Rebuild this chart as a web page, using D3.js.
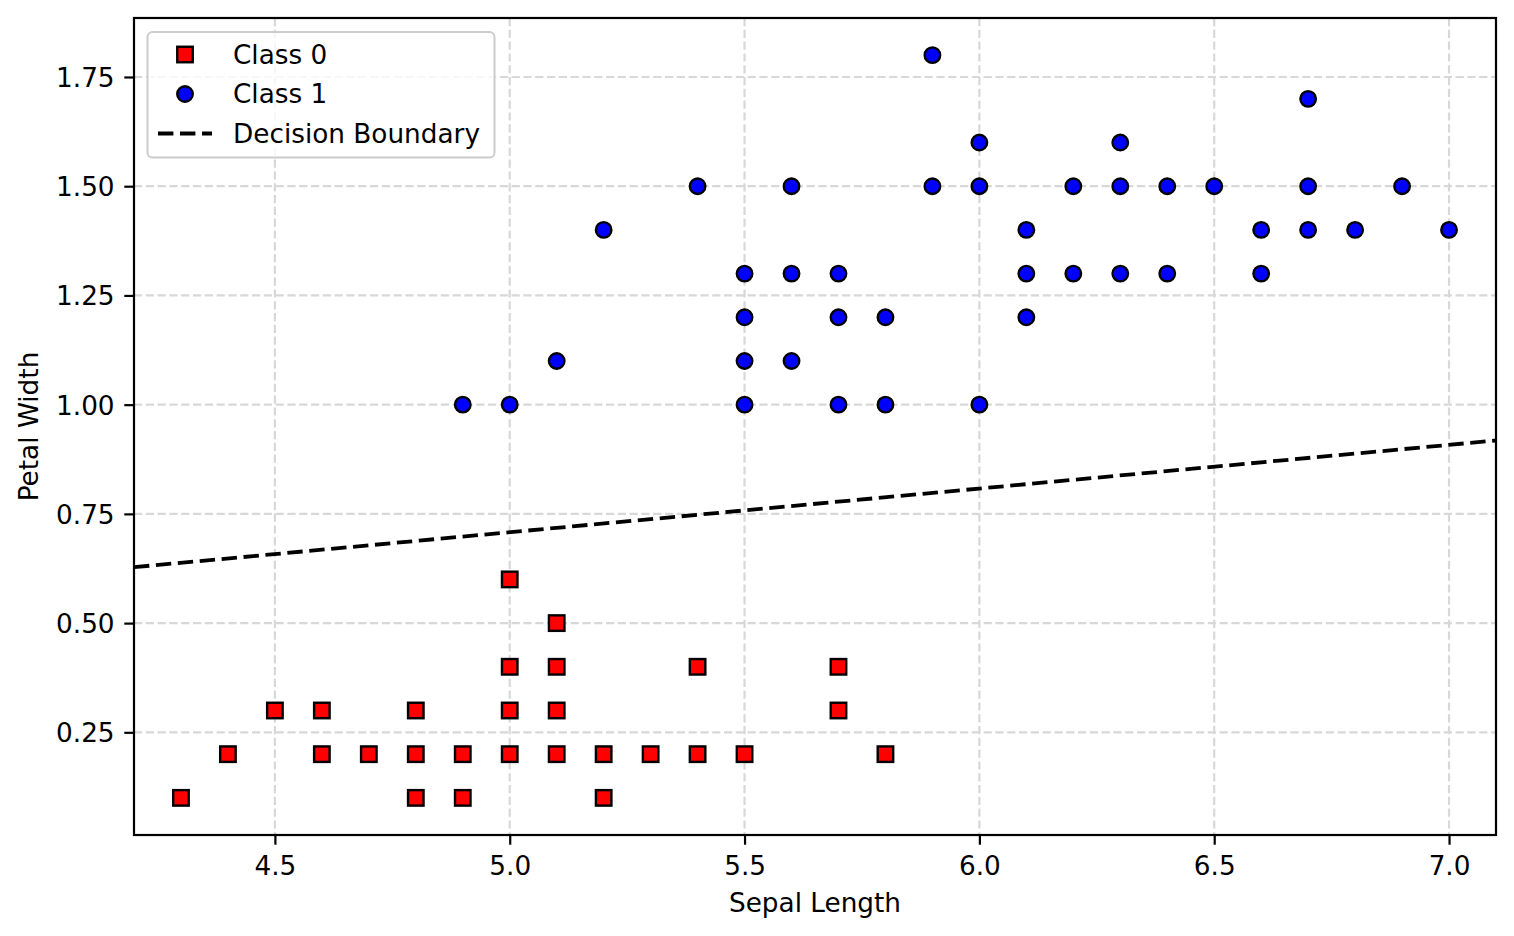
<!DOCTYPE html>
<html>
<head>
<meta charset="utf-8">
<script src="https://cdn.jsdelivr.net/npm/d3@7"></script>
<style>
  html, body { margin: 0; padding: 0; background: #fff; }
  svg { display: block; font-family: "DejaVu Sans", sans-serif; }
</style>
</head>
<body>
<div id="chart"></div>
<script>
// class 0: [sepal length, petal width]
const class0 = [
  [4.3, 0.1], [4.4, 0.2], [4.5, 0.3], [4.6, 0.3], [4.6, 0.2], [4.7, 0.2],
  [4.8, 0.3], [4.8, 0.2], [4.8, 0.1], [4.9, 0.2], [4.9, 0.1],
  [5.0, 0.6], [5.0, 0.4], [5.0, 0.3], [5.0, 0.2],
  [5.1, 0.5], [5.1, 0.4], [5.1, 0.3], [5.1, 0.2],
  [5.2, 0.2], [5.2, 0.1], [5.3, 0.2], [5.4, 0.4], [5.4, 0.2], [5.5, 0.2],
  [5.7, 0.4], [5.7, 0.3], [5.8, 0.2]
];

// class 1
const class1 = [
  [4.9, 1.0], [5.0, 1.0], [5.1, 1.1], [5.2, 1.4], [5.4, 1.5],
  [5.5, 1.3], [5.5, 1.2], [5.5, 1.1], [5.5, 1.0],
  [5.6, 1.5], [5.6, 1.3], [5.6, 1.1],
  [5.7, 1.3], [5.7, 1.2], [5.7, 1.0], [5.8, 1.2], [5.8, 1.0],
  [5.9, 1.8], [5.9, 1.5], [6.0, 1.6], [6.0, 1.5], [6.0, 1.0],
  [6.1, 1.4], [6.1, 1.3], [6.1, 1.2], [6.2, 1.5], [6.2, 1.3],
  [6.3, 1.6], [6.3, 1.5], [6.3, 1.3], [6.4, 1.5], [6.4, 1.3],
  [6.5, 1.5], [6.6, 1.4], [6.6, 1.3],
  [6.7, 1.7], [6.7, 1.5], [6.7, 1.4], [6.8, 1.4], [6.9, 1.5], [7.0, 1.4]
];

// decision boundary: petal width = slope * sepal length + intercept
const boundarySlope = 0.1;
const boundaryIntercept = 0.208;

const xTicks = [4.5, 5.0, 5.5, 6.0, 6.5, 7.0];
const yTicks = [0.25, 0.50, 0.75, 1.00, 1.25, 1.50, 1.75];
const xDomain = [4.2, 7.1];
const yDomain = [0.015, 1.885];

const legendItems = [
  { label: 'Class 0', type: 'square' },
  { label: 'Class 1', type: 'circle' },
  { label: 'Decision Boundary', type: 'line' }
];

const W = 1514;
const H = 936;
const margins = { left: 134, right: 18, top: 18, bottom: 101 };
const FONT = 26.3;

const svg = d3.select('#chart').append('svg').attr('width', W).attr('height', H);

const x = d3.scaleLinear().domain(xDomain).range([margins.left, W - margins.right]);
const y = d3.scaleLinear().domain(yDomain).range([H - margins.bottom, margins.top]);

const plotLeft = x.range()[0], plotRight = x.range()[1];
const plotTop = y.range()[1], plotBottom = y.range()[0];

svg.append('defs').append('clipPath').attr('id', 'plot-clip')
  .append('rect').attr('x', plotLeft).attr('y', plotTop)
  .attr('width', plotRight - plotLeft).attr('height', plotBottom - plotTop);

// grid
const grid = svg.append('g').attr('class', 'grid');
grid.selectAll('line.gx').data(xTicks).join('line').attr('class', 'gx')
  .attr('x1', d => x(d)).attr('x2', d => x(d)).attr('y1', plotTop).attr('y2', plotBottom);
grid.selectAll('line.gy').data(yTicks).join('line').attr('class', 'gy')
  .attr('x1', plotLeft).attr('x2', plotRight).attr('y1', d => y(d)).attr('y2', d => y(d));
grid.selectAll('line')
  .attr('stroke', '#d8d8d8').attr('stroke-width', 2.2).attr('stroke-dasharray', '8.2,3.6');

// scatter
const plot = svg.append('g').attr('clip-path', 'url(#plot-clip)');
const side = 15.5;
plot.selectAll('rect.c0').data(class0).join('rect')
  .attr('class', 'c0')
  .attr('x', d => x(d[0]) - side / 2).attr('y', d => y(d[1]) - side / 2)
  .attr('width', side).attr('height', side)
  .attr('fill', '#ff0000').attr('stroke', '#000').attr('stroke-width', 2.4);
plot.selectAll('circle.c1').data(class1).join('circle')
  .attr('class', 'c1')
  .attr('cx', d => x(d[0])).attr('cy', d => y(d[1])).attr('r', side / 2)
  .attr('fill', '#0000ff').attr('stroke', '#000').attr('stroke-width', 2.4);

// decision boundary
const line = d3.line().x(d => x(d)).y(d => y(boundarySlope * d + boundaryIntercept));
plot.append('path').datum(xDomain)
  .attr('d', line)
  .attr('fill', 'none').attr('stroke', '#000').attr('stroke-width', 3.8)
  .attr('stroke-dasharray', '15.4,6.6');

// axes
const xAxis = d3.axisBottom(x).tickValues(xTicks).tickFormat(d3.format('.1f')).tickSize(9.7).tickPadding(0);
const yAxis = d3.axisLeft(y).tickValues(yTicks).tickFormat(d3.format('.2f')).tickSize(9.7).tickPadding(0);

const gx = svg.append('g').attr('transform', `translate(0, ${plotBottom})`).call(xAxis);
const gy = svg.append('g').attr('transform', `translate(${plotLeft}, 0)`).call(yAxis);
[gx, gy].forEach(g => {
  g.select('.domain').remove();
  g.selectAll('.tick line').attr('stroke', '#000').attr('stroke-width', 2.2);
  g.selectAll('.tick text').attr('fill', '#000').style('font-size', FONT + 'px')
    .style('font-family', '"DejaVu Sans", sans-serif');
});
gx.selectAll('.tick text').attr('y', 39.5).attr('dy', 0);
gy.selectAll('.tick text').attr('x', -19.4).attr('dy', '0.36em');

// spines
svg.append('rect')
  .attr('x', plotLeft).attr('y', plotTop)
  .attr('width', plotRight - plotLeft).attr('height', plotBottom - plotTop)
  .attr('fill', 'none').attr('stroke', '#000').attr('stroke-width', 2.2);

// axis labels
svg.append('text')
  .attr('x', (plotLeft + plotRight) / 2).attr('y', 912)
  .attr('text-anchor', 'middle').style('font-size', FONT + 'px')
  .text('Sepal Length');
svg.append('text')
  .attr('transform', `translate(38, ${(plotTop + plotBottom) / 2}) rotate(-90)`)
  .attr('text-anchor', 'middle').style('font-size', FONT + 'px')
  .text('Petal Width');

// legend
const legend = svg.append('g').attr('class', 'legend');
legend.append('rect')
  .attr('x', 147.5).attr('y', 32).attr('width', 347).attr('height', 125.5)
  .attr('rx', 5).attr('fill', '#fff').attr('fill-opacity', 0.8)
  .attr('stroke', '#cccccc').attr('stroke-width', 2);

const rowY = d3.scaleLinear().domain([0, 1]).range([54.5, 94]);
const handleX = 185;
legendItems.forEach((item, i) => {
  const cy = rowY(i);
  if (item.type === 'square') {
    legend.append('rect')
      .attr('x', handleX - side / 2).attr('y', cy - side / 2).attr('width', side).attr('height', side)
      .attr('fill', '#ff0000').attr('stroke', '#000').attr('stroke-width', 2.4);
  } else if (item.type === 'circle') {
    legend.append('circle')
      .attr('cx', handleX).attr('cy', cy).attr('r', side / 2)
      .attr('fill', '#0000ff').attr('stroke', '#000').attr('stroke-width', 2.4);
  } else {
    legend.append('line')
      .attr('x1', 158).attr('x2', 212).attr('y1', cy).attr('y2', cy)
      .attr('stroke', '#000').attr('stroke-width', 3.8).attr('stroke-dasharray', '15.4,6.6');
  }
  legend.append('text')
    .attr('x', 233).attr('y', cy).attr('dy', '0.36em')
    .style('font-size', FONT + 'px')
    .text(item.label);
});
</script>
</body>
</html>
